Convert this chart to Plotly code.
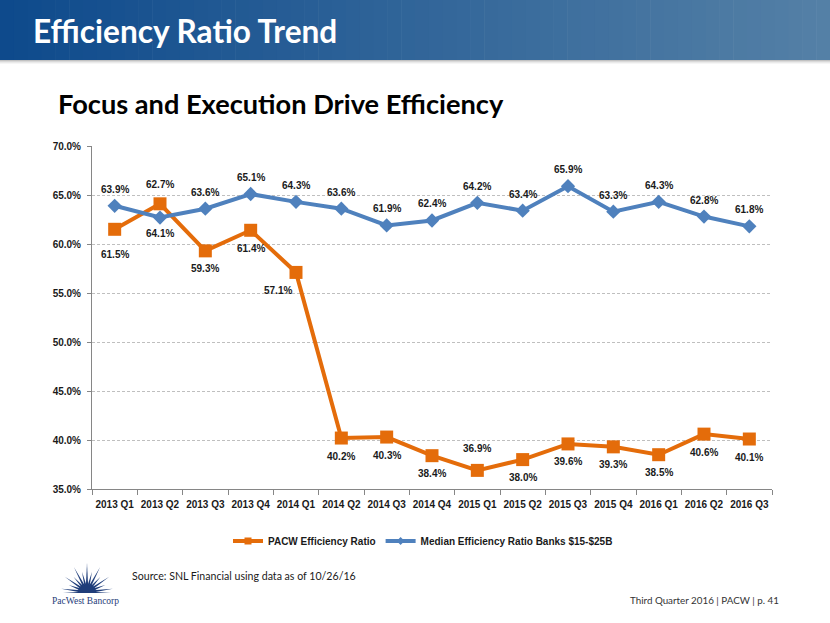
import math
import plotly.graph_objects as go

quarters = ["2013 Q1", "2013 Q2", "2013 Q3", "2013 Q4", "2014 Q1", "2014 Q2", "2014 Q3", "2014 Q4",
            "2015 Q1", "2015 Q2", "2015 Q3", "2015 Q4", "2016 Q1", "2016 Q2", "2016 Q3"]
pacw = [61.5, 64.1, 59.3, 61.4, 57.1, 40.2, 40.3, 38.4, 36.9, 38.0, 39.6, 39.3, 38.5, 40.6, 40.1]
median = [63.9, 62.7, 63.6, 65.1, 64.3, 63.6, 61.9, 62.4, 64.2, 63.4, 65.9, 63.3, 64.3, 62.8, 61.8]
y_ticks = [35, 40, 45, 50, 55, 60, 65, 70]
series_names = ["PACW Efficiency Ratio", "Median Efficiency Ratio Banks $15-$25B"]

W, H = 830, 623
L, R, T, B = 92, 772, 146, 489
PW, PH = R - L, B - T


def px(x):
    return (x - L) / PW


def py(y):
    return (B - y) / PH


ORANGE = "#E46C0A"
BLUE = "#4F81BD"
LBL_FONT = dict(family="Liberation Sans", size=10, color="#1a1a1a")

fig = go.Figure()
fig.add_trace(go.Scatter(
    x=quarters, y=pacw, name=series_names[0], mode="lines+markers", showlegend=False,
    line=dict(color=ORANGE, width=4),
    marker=dict(symbol="square", size=13, color=ORANGE),
))
fig.add_trace(go.Scatter(
    x=quarters, y=median, name=series_names[1], mode="lines+markers", showlegend=False,
    line=dict(color=BLUE, width=4),
    marker=dict(symbol="diamond", size=11, color=BLUE),
))
# legend entries (smaller symbols, as in the original legend)
fig.add_trace(go.Scatter(
    x=[None], y=[None], name="<b>%s</b>" % series_names[0], mode="lines+markers",
    line=dict(color=ORANGE, width=4), marker=dict(symbol="square", size=7, color=ORANGE),
))
fig.add_trace(go.Scatter(
    x=[None], y=[None], name="<b>%s</b>" % series_names[1], mode="lines+markers",
    line=dict(color=BLUE, width=4), marker=dict(symbol="diamond", size=6, color=BLUE),
))

annotations = []
# label offsets (pixels; positive dy = below the point)
orange_off = {0: (0, 25), 1: (0, 30), 4: (-18, 18), 8: (0, -22)}
blue_off = {1: (0, -33)}
for i, q in enumerate(quarters):
    dx, dy = orange_off.get(i, (0, 18))
    annotations.append(dict(x=q, y=pacw[i], xref="x", yref="y", text="<b>%.1f%%</b>" % pacw[i],
                            showarrow=False, xshift=dx, yshift=-dy, font=LBL_FONT))
    dx, dy = blue_off.get(i, (0, -16.5))
    annotations.append(dict(x=q, y=median[i], xref="x", yref="y", text="<b>%.1f%%</b>" % median[i],
                            showarrow=False, xshift=dx, yshift=-dy, font=LBL_FONT))

# Header title / subtitle / footer texts
annotations += [
    dict(x=px(31), y=py(31), xref="paper", yref="paper", xanchor="left", yanchor="middle",
         text="<b>Efficiency Ratio Trend</b>", showarrow=False,
         font=dict(family="Lato", size=31.6, color="white")),
    dict(x=px(56), y=py(103), xref="paper", yref="paper", xanchor="left", yanchor="middle",
         text="<b>Focus and Execution Drive Efficiency</b>", showarrow=False,
         font=dict(family="Lato", size=27.2, color="black")),
    dict(x=px(130), y=py(576), xref="paper", yref="paper", xanchor="left", yanchor="middle",
         text="Source: SNL Financial using data as of 10/26/16", showarrow=False,
         font=dict(family="Lato", size=10.6, color="#1a1a1a")),
    dict(x=px(781), y=py(600), xref="paper", yref="paper", xanchor="right", yanchor="middle",
         text="Third Quarter 2016 | PACW | p. 41", showarrow=False,
         font=dict(family="Lato", size=9.8, color="#333333")),
    dict(x=px(85), y=py(601), xref="paper", yref="paper", xanchor="center", yanchor="middle",
         text="PacWest Bancorp", showarrow=False,
         font=dict(family="Liberation Serif", size=9.5, color="#1F3D7A")),
]

shapes = []
# gradient header band
n = 60
c0 = (14, 74, 140)
c1 = (84, 128, 166)
for k in range(n):
    t = k / (n - 1)
    col = "rgb(%d,%d,%d)" % tuple(round(a + (b - a) * t) for a, b in zip(c0, c1))
    x0 = W * k / n
    x1 = W * (k + 1) / n + 0.6
    shapes.append(dict(type="rect", xref="paper", yref="paper", x0=px(x0), x1=px(x1),
                       y0=py(60), y1=py(0), fillcolor=col, line=dict(width=0), layer="below"))
# shadow under band
for j, a in enumerate([0.35, 0.22, 0.12, 0.05]):
    shapes.append(dict(type="rect", xref="paper", yref="paper", x0=px(0), x1=px(W),
                       y0=py(61 + j), y1=py(60 + j), fillcolor="rgba(80,80,80,%.2f)" % a,
                       line=dict(width=0), layer="below"))

# starburst logo
cx, cy = 87, 592
NAVY = "#1F3D7A"
nr = 13
for k in range(nr):
    ang = math.pi * (k + 0.5) / nr
    mid = abs(k - (nr - 1) / 2)
    length = 29 - mid * 0.5 if k % 2 == 0 else 21 - mid * 0.3
    tipx, tipy = cx + length * math.cos(ang), cy - length * math.sin(ang)
    hw = 0.19
    r0 = 6
    ax, ay = cx + r0 * math.cos(ang - hw), cy - r0 * math.sin(ang - hw)
    bx, by = cx + r0 * math.cos(ang + hw), cy - r0 * math.sin(ang + hw)
    path = "M %f,%f L %f,%f L %f,%f Z" % (px(ax), py(ay), px(tipx), py(tipy), px(bx), py(by))
    shapes.append(dict(type="path", xref="paper", yref="paper", path=path,
                       fillcolor=NAVY, line=dict(width=0)))
# base fan
pts = []
for k in range(21):
    ang = math.pi * k / 20
    pts.append((cx + 9 * math.cos(ang), cy - 8 * math.sin(ang)))
path = "M %f,%f " % (px(cx + 24), py(cy + 1)) + " ".join(
    "L %f,%f" % (px(x), py(y)) for x, y in pts) + " L %f,%f Z" % (px(cx - 24), py(cy + 1))
shapes.append(dict(type="path", xref="paper", yref="paper", path=path,
                   fillcolor=NAVY, line=dict(width=0)))

fig.update_layout(
    width=W, height=H,
    margin=dict(l=L, r=W - R, t=T, b=H - B, autoexpand=False),
    paper_bgcolor="white", plot_bgcolor="white",
    showlegend=True,
    legend=dict(orientation="h", x=px(423), xanchor="center", y=py(541), yanchor="middle",
                font=dict(family="Liberation Sans", size=10, color="#1a1a1a"),
                itemwidth=30, bgcolor="rgba(0,0,0,0)"),
    annotations=annotations,
    shapes=shapes,
    xaxis=dict(type="category", range=[-0.5, len(quarters) - 0.5], tickson="boundaries",
               ticks="outside", ticklen=5, tickcolor="#868686", showline=True, linecolor="#868686",
               linewidth=1, showgrid=False, fixedrange=True, tickangle=0, ticklabelstandoff=6,
               tickfont=dict(family="Liberation Sans", size=10, color="#1a1a1a"),
               tickmode="array", tickvals=quarters, ticktext=["<b>%s</b>" % q for q in quarters]),
    yaxis=dict(range=[35, 70], tickvals=y_ticks, ticktext=["<b>%.1f%%</b>" % v for v in y_ticks],
               ticks="outside", ticklen=4, tickcolor="#868686", showline=True, linecolor="#868686",
               linewidth=1, showgrid=True, gridcolor="#BFBFBF", griddash="3px,2px", gridwidth=1,
               zeroline=False, fixedrange=True, ticklabelstandoff=4,
               tickfont=dict(family="Liberation Sans", size=10, color="#1a1a1a")),
)

fig.write_html("out.html")
